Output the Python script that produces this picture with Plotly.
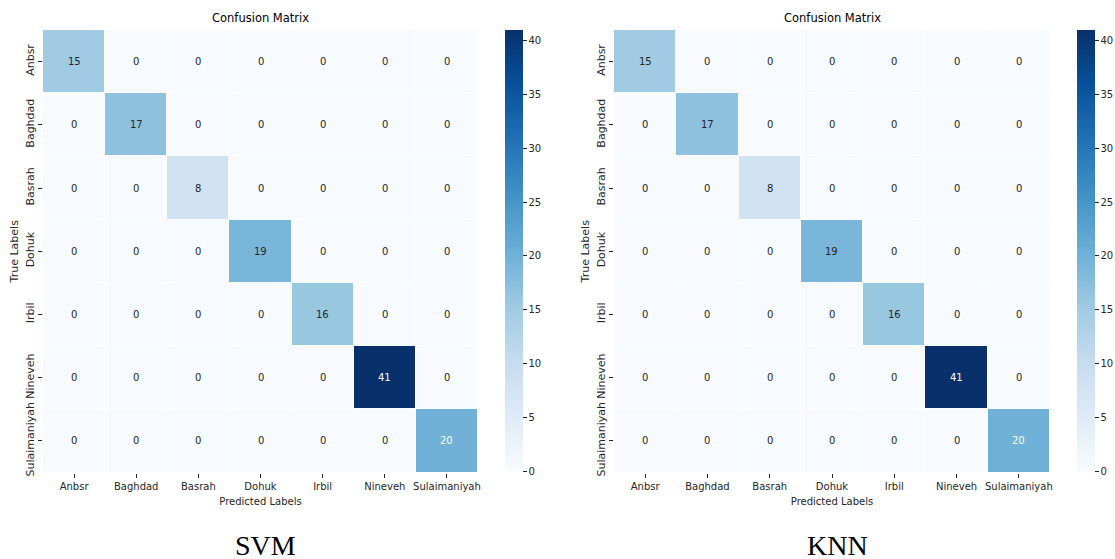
import numpy as np
import plotly.graph_objects as go
from plotly.colors import sample_colorscale, unlabel_rgb

# Class names (row = true label, column = predicted label)
labels = ["Anbsr", "Baghdad", "Basrah", "Dohuk", "Irbil", "Nineveh", "Sulaimaniyah"]

# Correct predictions per class; every off-diagonal entry is zero
svm_diag = [15, 17, 8, 19, 16, 41, 20]
knn_diag = [15, 17, 8, 19, 16, 41, 20]

models = ["SVM", "KNN"]
cbar_ticks = [0, 5, 10, 15, 20, 25, 30, 35, 40]

W, H = 1115, 559
FONT = "DejaVu Sans"
DARK = "#262626"
X_SIZE = 10    # horizontal texts
Y_SIZE = 11    # vertical (rotated) texts


def matrix_from_diag(diag):
    n = len(diag)
    m = np.zeros((n, n), dtype=int)
    for i, v in enumerate(diag):
        m[i, i] = v
    return m


def px(v, total):
    return v / total


matrices = [matrix_from_diag(svm_diag), matrix_from_diag(knn_diag)]
zmax = max(int(m.max()) for m in matrices)

# panel geometry in pixels: heatmap left/right, colorbar left
panels = [
    dict(x0=43, x1=478, cb=505),
    dict(x0=614, x1=1050, cb=1077),
]
top_px, bot_px = 30, 472.5

fig = go.Figure()


def text_color(val):
    rgb = unlabel_rgb(sample_colorscale("Blues", [val / zmax])[0])
    c = [x / 255 for x in rgb]
    c = [x / 12.92 if x <= 0.03928 else ((x + 0.055) / 1.055) ** 2.4 for x in c]
    lum = 0.2126 * c[0] + 0.7152 * c[1] + 0.0722 * c[2]
    return DARK if lum > 0.408 else "white"


for k, (m, p, name) in enumerate(zip(matrices, panels, models)):
    xa = "x" if k == 0 else "x2"
    ya = "y" if k == 0 else "y2"
    fig.add_trace(go.Heatmap(
        z=m, x=labels, y=labels,
        xaxis=xa, yaxis=ya,
        colorscale="Blues", zmin=0, zmax=zmax,
        xgap=1, ygap=1,
        hoverinfo="skip",
        colorbar=dict(
            x=px(p["cb"], W), xanchor="left",
            y=1 - px(top_px, H), yanchor="top",
            len=bot_px - top_px - 2, lenmode="pixels",
            thickness=18, thicknessmode="pixels",
            outlinewidth=0,
            tickvals=cbar_ticks,
            ticks="outside", ticklen=4, tickcolor=DARK, tickwidth=1,
            tickfont=dict(family=FONT, size=X_SIZE, color=DARK),
            xpad=0, ypad=0,
        ),
    ))
    # cell value labels
    for i, row_lab in enumerate(labels):
        for j, col_lab in enumerate(labels):
            v = int(m[i, j])
            fig.add_annotation(
                x=col_lab, y=row_lab, xref=xa, yref=ya,
                text=str(v), showarrow=False,
                font=dict(family=FONT, size=X_SIZE, color=text_color(v)),
            )
    axis_common = dict(
        showgrid=False, zeroline=False, showline=False,
        ticks="outside", ticklen=4, tickcolor=DARK, tickwidth=1,
        automargin=False,
    )
    fig.update_layout(**{
        ("xaxis" if k == 0 else "xaxis2"): dict(
            domain=[px(p["x0"], W), px(p["x1"], W)],
            anchor=ya,
            tickangle=0,
            tickfont=dict(family=FONT, size=X_SIZE, color=DARK),
            title=dict(text="Predicted Labels", standoff=7,
                       font=dict(family=FONT, size=X_SIZE, color=DARK)),
            **axis_common,
        ),
        ("yaxis" if k == 0 else "yaxis2"): dict(
            domain=[1 - px(bot_px, H), 1 - px(top_px, H)],
            anchor=xa,
            autorange="reversed",
            tickangle=-90,
            tickfont=dict(family=FONT, size=Y_SIZE, color=DARK),
            title=dict(text="True Labels", standoff=2,
                       font=dict(family=FONT, size=Y_SIZE, color=DARK)),
            **axis_common,
        ),
    })
    cx = px((p["x0"] + p["x1"]) / 2, W)
    fig.add_annotation(
        x=cx, y=1 - px(18, H), xref="paper", yref="paper",
        text="Confusion Matrix", showarrow=False,
        xanchor="center", yanchor="middle",
        font=dict(family=FONT, size=11.5, color="black"),
    )
    fig.add_annotation(
        x=cx + px(5, W), y=1 - px(545, H), xref="paper", yref="paper",
        text=name, showarrow=False,
        xanchor="center", yanchor="middle",
        font=dict(family="Liberation Serif", size=28, color="black"),
    )

fig.update_layout(
    width=W, height=H,
    margin=dict(l=0, r=0, t=0, b=0),
    paper_bgcolor="white", plot_bgcolor="white",
    showlegend=False,
)

fig.write_html("out.html")
